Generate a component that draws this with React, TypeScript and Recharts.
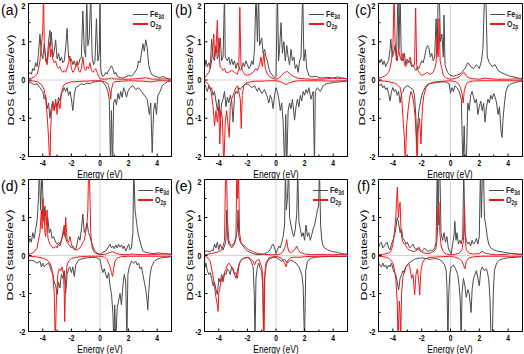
import React from 'react';
import { LineChart, Line, XAxis, YAxis, ReferenceLine, ReferenceArea } from 'recharts';

type P = [number, number][];

// ---------- tick values ----------
const xTicks = [-5, -4, -3, -2, -1, 0, 1, 2, 3, 4, 5];
const xLabeled = [-4, -2, 0, 2, 4];
const yTicks = [-2, -1.5, -1, -0.5, 0, 0.5, 1, 1.5, 2];
const yLabeled = [-2, -1, 0, 1, 2];
const panelLetters = ['(a)', '(b)', '(c)', '(d)', '(e)', '(f)'];

// ---------- panel (a) ----------
const aFeUp: P = [[-5,0.15],[-4.9,0.2],[-4.8,0.15],[-4.7,0.3],[-4.6,0.25],[-4.5,0.45],[-4.4,0.35],[-4.3,0.7],[-4.2,1.2],[-4.1,0.7],[-4.0,0.55],[-3.9,0.95],[-3.8,0.6],[-3.7,0.45],[-3.6,1.0],[-3.5,1.3],[-3.45,0.9],[-3.4,1.25],[-3.3,0.6],[-3.2,0.75],[-3.1,1.05],[-3.0,0.55],[-2.9,0.7],[-2.8,0.5],[-2.7,0.6],[-2.6,0.45],[-2.5,0.5],[-2.4,0.85],[-2.3,1.35],[-2.2,0.6],[-2.1,0.5],[-2.0,0.55],[-1.9,0.4],[-1.8,0.5],[-1.7,0.35],[-1.6,0.45],[-1.5,0.4],[-1.4,0.55],[-1.3,0.6],[-1.2,1.8],[-1.1,0.8],[-1.0,0.6],[-0.93,2.3],[-0.85,0.9],[-0.75,1.1],[-0.65,2.3],[-0.55,0.6],[-0.45,0.4],[-0.35,0.5],[-0.25,1.6],[-0.15,0.5],[-0.05,0.7],[0,2.3],[0.05,0.3],[0.15,0.1],[0.3,0.12],[0.4,0.2],[0.5,0.15],[0.6,0.25],[0.7,0.3],[0.8,0.37],[0.9,0.3],[1.0,0.15],[1.1,0.2],[1.2,0.1],[1.4,0.06],[1.6,0.05],[1.8,0.08],[2.0,0.12],[2.2,0.1],[2.4,0.18],[2.6,0.3],[2.7,0.5],[2.8,0.45],[2.9,0.7],[3.0,0.95],[3.1,0.75],[3.2,1.05],[3.3,0.85],[3.4,0.4],[3.5,0.25],[3.6,0.15],[3.8,0.1],[4.0,0.08],[4.2,0.05],[4.4,0.1],[4.6,0.05],[4.8,0.03],[5,0.02]];
const aFeDn: P = [[-5,-0.05],[-4.8,-0.08],[-4.6,-0.12],[-4.4,-0.1],[-4.2,-0.2],[-4.0,-0.3],[-3.9,-0.5],[-3.8,-0.4],[-3.7,-0.75],[-3.6,-0.6],[-3.5,-1.0],[-3.4,-0.7],[-3.3,-0.55],[-3.2,-0.8],[-3.1,-0.6],[-3.0,-0.7],[-2.9,-0.45],[-2.8,-0.55],[-2.7,-0.35],[-2.6,-0.3],[-2.5,-0.2],[-2.4,-0.3],[-2.3,-0.2],[-2.2,-0.4],[-2.1,-0.3],[-2.0,-0.5],[-1.9,-0.8],[-1.8,-0.4],[-1.7,-0.2],[-1.5,-0.15],[-1.3,-0.1],[-1.1,-0.12],[-0.9,-0.08],[-0.7,-0.1],[-0.5,-0.05],[-0.3,-0.05],[-0.1,-0.03],[0,-0.02],[0.2,-0.05],[0.4,-0.15],[0.55,-0.3],[0.65,-0.5],[0.74,-2.3],[0.8,-0.8],[0.88,-2.3],[0.95,-0.6],[1.05,-0.5],[1.15,-0.65],[1.25,-0.35],[1.35,-0.5],[1.45,-0.3],[1.55,-0.45],[1.65,-0.2],[1.75,-0.3],[1.85,-0.45],[1.95,-0.3],[2.1,-0.2],[2.3,-0.15],[2.5,-0.25],[2.7,-0.2],[2.9,-0.3],[3.1,-0.4],[3.3,-0.5],[3.45,-0.9],[3.55,-0.6],[3.65,-1.9],[3.75,-0.8],[3.85,-0.6],[3.95,-0.9],[4.05,-0.4],[4.2,-0.3],[4.35,-0.15],[4.5,-0.1],[4.7,-0.05],[5,-0.02]];
const aOUp: P = [[-5,0.03],[-4.8,0.05],[-4.6,0.08],[-4.4,0.15],[-4.3,0.3],[-4.2,0.5],[-4.1,0.9],[-4.0,1.3],[-3.95,2.3],[-3.9,1.0],[-3.8,0.5],[-3.7,0.4],[-3.6,0.7],[-3.5,1.0],[-3.45,0.6],[-3.4,0.8],[-3.3,0.55],[-3.2,0.45],[-3.1,0.5],[-3.0,0.35],[-2.9,0.3],[-2.8,0.35],[-2.7,0.25],[-2.6,0.2],[-2.5,0.25],[-2.4,0.2],[-2.3,0.3],[-2.2,0.45],[-2.1,0.63],[-2.0,0.3],[-1.9,0.2],[-1.8,0.25],[-1.7,0.35],[-1.6,0.5],[-1.5,0.25],[-1.4,0.2],[-1.3,0.3],[-1.2,0.6],[-1.1,0.3],[-1.0,0.25],[-0.9,0.35],[-0.8,0.3],[-0.7,0.45],[-0.6,0.25],[-0.5,0.2],[-0.4,0.25],[-0.3,0.3],[-0.2,0.2],[-0.1,0.1],[0,0.03],[0.3,0.02],[0.6,0.03],[0.8,0.05],[1.0,0.03],[1.5,0.02],[2,0.02],[2.5,0.03],[3,0.05],[3.2,0.06],[3.5,0.03],[4,0.02],[4.5,0.03],[5,0.02]];
const aODn: P = [[-5,-0.02],[-4.6,-0.03],[-4.3,-0.06],[-4.1,-0.12],[-3.9,-0.25],[-3.8,-0.5],[-3.7,-0.9],[-3.6,-1.5],[-3.5,-2.3],[-3.45,-1.3],[-3.4,-0.9],[-3.3,-0.6],[-3.2,-0.8],[-3.1,-0.5],[-3.0,-0.9],[-2.9,-0.55],[-2.8,-0.75],[-2.7,-0.35],[-2.6,-0.2],[-2.5,-0.12],[-2.3,-0.08],[-2.0,-0.05],[-1.5,-0.04],[-1.0,-0.03],[-0.5,-0.02],[0,-0.02],[0.3,-0.04],[0.5,-0.08],[0.6,-0.15],[0.7,-0.3],[0.75,-0.5],[0.8,-0.25],[0.9,-0.1],[1.0,-0.05],[1.5,-0.03],[2,-0.02],[3,-0.03],[3.6,-0.05],[4,-0.02],[5,-0.02]];

// ---------- panel (b) ----------
const bFeUp: P = [[-5,0.3],[-4.9,0.5],[-4.8,0.35],[-4.7,0.45],[-4.6,0.3],[-4.5,1.07],[-4.4,0.6],[-4.3,0.5],[-4.2,0.9],[-4.1,0.55],[-4.0,0.7],[-3.9,1.1],[-3.8,0.5],[-3.7,0.6],[-3.6,2.3],[-3.55,0.6],[-3.4,0.5],[-3.3,0.6],[-3.2,0.4],[-3.1,0.55],[-3.0,0.4],[-2.9,0.5],[-2.8,0.3],[-2.7,0.45],[-2.6,0.35],[-2.5,0.25],[-2.4,0.3],[-2.3,0.45],[-2.2,0.35],[-2.1,0.5],[-2.0,0.4],[-1.9,0.3],[-1.8,0.35],[-1.7,0.5],[-1.6,0.4],[-1.5,0.8],[-1.4,2.3],[-1.3,1.0],[-1.22,2.3],[-1.15,0.9],[-1.0,1.1],[-0.9,0.7],[-0.8,0.8],[-0.7,0.6],[-0.6,0.5],[-0.5,0.3],[-0.4,0.2],[-0.3,0.15],[-0.2,0.1],[-0.1,0.05],[0,0.1],[0.1,2.3],[0.18,0.5],[0.25,0.8],[0.35,1.5],[0.45,0.7],[0.55,1.0],[0.65,0.5],[0.75,0.9],[0.85,0.6],[0.95,0.4],[1.05,0.8],[1.15,0.5],[1.25,0.6],[1.35,0.3],[1.45,0.4],[1.55,0.2],[1.65,0.5],[1.75,0.6],[1.87,2.3],[1.95,0.5],[2.05,0.8],[2.15,0.3],[2.3,0.12],[2.5,0.08],[2.8,0.1],[3.0,0.06],[3.3,0.05],[3.6,0.07],[4.0,0.05],[4.3,0.08],[4.6,0.05],[5,0.03]];
const bFeDn: P = [[-5,-0.1],[-4.9,-0.2],[-4.8,-0.3],[-4.7,-0.15],[-4.6,-0.25],[-4.5,-0.2],[-4.4,-0.4],[-4.3,-0.3],[-4.2,-0.55],[-4.1,-0.8],[-4.0,-0.5],[-3.9,-1.0],[-3.8,-0.6],[-3.7,-0.5],[-3.6,-0.3],[-3.5,-0.7],[-3.4,-0.45],[-3.3,-0.6],[-3.2,-0.4],[-3.1,-0.55],[-3.0,-1.1],[-2.9,-0.4],[-2.8,-0.3],[-2.7,-0.35],[-2.6,-0.2],[-2.5,-0.25],[-2.3,-0.15],[-2.1,-0.1],[-1.9,-0.12],[-1.7,-0.2],[-1.5,-0.15],[-1.3,-0.3],[-1.2,-0.2],[-1.0,-0.35],[-0.8,-0.25],[-0.6,-0.45],[-0.5,-0.6],[-0.4,-0.4],[-0.3,-0.5],[-0.2,-0.75],[-0.1,-0.4],[0,-0.2],[0.1,-0.3],[0.2,-0.5],[0.3,-0.8],[0.4,-0.6],[0.5,-1.1],[0.6,-2.3],[0.68,-0.9],[0.75,-2.3],[0.85,-0.8],[0.95,-0.6],[1.05,-0.75],[1.15,-0.5],[1.3,-1.05],[1.4,-0.7],[1.5,-0.5],[1.6,-0.7],[1.7,-0.4],[1.8,-0.55],[1.9,-0.3],[2.0,-0.4],[2.1,-0.25],[2.2,-0.35],[2.3,-0.2],[2.45,-0.5],[2.6,-0.3],[2.69,-2.3],[2.75,-0.3],[2.9,-0.2],[3.1,-0.3],[3.3,-0.15],[3.5,-0.1],[3.8,-0.08],[4.1,-0.06],[4.4,-0.05],[4.7,-0.04],[5,-0.03]];
const bOUp: P = [[-5,0.05],[-4.9,0.1],[-4.8,0.15],[-4.7,0.2],[-4.6,0.3],[-4.5,0.5],[-4.4,0.9],[-4.35,1.2],[-4.3,0.6],[-4.2,0.8],[-4.1,1.56],[-4.05,0.7],[-4.0,1.1],[-3.95,0.5],[-3.9,0.35],[-3.8,0.3],[-3.7,0.25],[-3.6,0.3],[-3.5,0.2],[-3.3,0.2],[-3.1,0.25],[-2.9,0.2],[-2.7,0.15],[-2.6,0.3],[-2.53,1.9],[-2.45,0.4],[-2.35,0.25],[-2.2,0.15],[-2.0,0.12],[-1.8,0.15],[-1.6,0.2],[-1.4,0.3],[-1.3,0.25],[-1.15,0.4],[-1.05,0.6],[-0.95,0.35],[-0.85,0.7],[-0.75,0.3],[-0.6,0.15],[-0.4,0.08],[-0.2,0.04],[0,0.02],[0.2,0.05],[0.4,0.12],[0.6,0.2],[0.8,0.22],[1.0,0.15],[1.2,0.1],[1.5,0.05],[2.0,0.03],[2.5,0.02],[3,0.02],[3.5,0.03],[4,0.05],[4.3,0.03],[4.7,0.05],[5,0.02]];
const bODn: P = [[-5,-0.03],[-4.8,-0.08],[-4.6,-0.2],[-4.5,-0.4],[-4.4,-0.7],[-4.3,-1.2],[-4.2,-0.8],[-4.1,-1.1],[-4.0,-0.7],[-3.93,-1.67],[-3.85,-0.8],[-3.75,-1.0],[-3.65,-2.3],[-3.55,-1.1],[-3.45,-0.8],[-3.35,-1.2],[-3.27,-1.5],[-3.2,-0.7],[-3.1,-0.5],[-3.0,-0.4],[-2.9,-0.3],[-2.8,-0.2],[-2.7,-0.15],[-2.6,-0.3],[-2.5,-0.5],[-2.43,-1.27],[-2.36,-0.4],[-2.25,-0.15],[-2.1,-0.08],[-1.8,-0.05],[-1.4,-0.03],[-1.0,-0.03],[-0.5,-0.02],[0,-0.02],[0.3,-0.04],[0.5,-0.08],[0.7,-0.12],[0.9,-0.08],[1.2,-0.04],[1.6,-0.02],[2,-0.02],[3,-0.02],[4,-0.03],[4.5,-0.02],[5,-0.02]];

// ---------- panel (c) ----------
const cFeUp: P = [[-5,0.5],[-4.9,0.45],[-4.8,0.55],[-4.7,0.4],[-4.6,0.5],[-4.5,0.35],[-4.4,0.45],[-4.3,0.5],[-4.2,0.8],[-4.14,1.07],[-4.05,0.6],[-3.95,0.7],[-3.85,0.9],[-3.75,0.5],[-3.65,2.3],[-3.58,0.8],[-3.5,2.3],[-3.42,0.6],[-3.3,0.5],[-3.2,0.7],[-3.1,0.4],[-3.0,0.55],[-2.9,0.45],[-2.8,0.5],[-2.7,0.35],[-2.6,0.4],[-2.5,0.3],[-2.4,0.25],[-2.3,0.35],[-2.2,0.3],[-2.1,0.4],[-2.0,0.5],[-1.9,0.45],[-1.8,0.6],[-1.7,0.8],[-1.6,0.9],[-1.5,0.85],[-1.4,0.6],[-1.3,0.7],[-1.2,0.5],[-1.1,0.6],[-1.0,1.6],[-0.93,0.7],[-0.85,2.3],[-0.78,2.3],[-0.7,1.0],[-0.6,1.2],[-0.5,0.6],[-0.45,1.7],[-0.38,0.4],[-0.3,0.3],[-0.2,0.2],[-0.1,0.15],[0,0.12],[0.2,0.1],[0.4,0.12],[0.6,0.15],[0.8,0.2],[1.0,0.3],[1.2,0.45],[1.4,0.35],[1.6,0.3],[1.8,0.4],[2.0,0.3],[2.15,0.5],[2.25,0.8],[2.37,2.3],[2.45,2.3],[2.55,0.6],[2.7,0.45],[2.9,0.35],[3.1,0.4],[3.3,0.25],[3.5,0.2],[3.8,0.15],[4.1,0.1],[4.4,0.08],[4.7,0.05],[5,0.04]];
const cFeDn: P = [[-5,-0.1],[-4.9,-0.15],[-4.8,-0.1],[-4.7,-0.2],[-4.6,-0.15],[-4.5,-0.25],[-4.4,-0.2],[-4.3,-0.35],[-4.2,-0.55],[-4.1,-0.3],[-4.0,-0.2],[-3.9,-0.3],[-3.8,-0.25],[-3.7,-0.4],[-3.6,-0.3],[-3.5,-0.6],[-3.4,-0.35],[-3.3,-0.3],[-3.2,-0.2],[-3.0,-0.15],[-2.8,-0.2],[-2.6,-0.25],[-2.5,-0.4],[-2.4,-1.0],[-2.35,-1.7],[-2.28,-1.2],[-2.2,-0.8],[-2.1,-0.6],[-2.0,-0.4],[-1.9,-0.3],[-1.7,-0.15],[-1.5,-0.1],[-1.2,-0.08],[-0.9,-0.06],[-0.6,-0.05],[-0.3,-0.05],[-0.1,-0.1],[0,-0.35],[0.1,-0.2],[0.2,-0.3],[0.3,-0.15],[0.45,-0.2],[0.6,-0.3],[0.75,-0.5],[0.86,-2.3],[0.95,-1.2],[1.02,-2.3],[1.09,-2.3],[1.2,-0.6],[1.3,-0.8],[1.4,-0.4],[1.5,-0.3],[1.6,-0.45],[1.7,-0.6],[1.8,-0.5],[1.9,-0.9],[2.0,-0.7],[2.1,-0.55],[2.2,-0.8],[2.3,-0.6],[2.4,-1.1],[2.5,-0.7],[2.6,-0.5],[2.7,-0.6],[2.8,-0.4],[2.9,-0.5],[3.0,-0.35],[3.1,-0.45],[3.2,-0.6],[3.3,-0.9],[3.4,-0.7],[3.5,-1.3],[3.58,-1.5],[3.65,-1.0],[3.75,-0.6],[3.85,-0.3],[4.0,-0.15],[4.2,-0.1],[4.5,-0.06],[4.8,-0.04],[5,-0.03]];
const cOUp: P = [[-5,0.05],[-4.8,0.06],[-4.6,0.1],[-4.4,0.15],[-4.3,0.2],[-4.2,0.3],[-4.1,0.5],[-4.0,0.8],[-3.92,2.3],[-3.85,1.0],[-3.78,0.7],[-3.7,0.5],[-3.6,0.8],[-3.5,0.6],[-3.4,0.5],[-3.3,0.7],[-3.2,0.4],[-3.1,0.35],[-3.0,0.45],[-2.9,0.5],[-2.8,0.6],[-2.7,0.4],[-2.6,0.35],[-2.5,0.4],[-2.42,1.88],[-2.35,0.4],[-2.25,0.25],[-2.1,0.15],[-2.0,0.12],[-1.8,0.15],[-1.6,0.2],[-1.4,0.15],[-1.2,0.2],[-1.1,0.3],[-1.0,0.45],[-0.92,1.2],[-0.86,0.6],[-0.8,1.6],[-0.72,0.5],[-0.6,0.3],[-0.5,0.12],[-0.3,0.05],[0,0.02],[0.3,0.04],[0.6,0.08],[0.8,0.15],[0.95,0.2],[1.1,0.1],[1.3,0.05],[1.6,0.03],[2,0.02],[2.4,0.05],[2.8,0.03],[3.3,0.02],[4,0.02],[4.5,0.03],[5,0.02]];
const cODn: P = [[-5,-0.02],[-4.6,-0.03],[-4.2,-0.05],[-3.9,-0.08],[-3.7,-0.12],[-3.5,-0.2],[-3.4,-0.4],[-3.3,-1.0],[-3.2,-1.5],[-3.14,-2.3],[-3.05,-1.2],[-2.95,-0.8],[-2.85,-0.5],[-2.75,-0.3],[-2.65,-0.4],[-2.55,-0.6],[-2.45,-1.0],[-2.38,-1.5],[-2.32,-2.3],[-2.25,-1.3],[-2.15,-1.0],[-2.05,-1.67],[-1.95,-0.7],[-1.85,-0.4],[-1.7,-0.2],[-1.5,-0.1],[-1.2,-0.06],[-0.8,-0.04],[-0.4,-0.03],[0,-0.02],[0.3,-0.04],[0.5,-0.08],[0.7,-0.2],[0.8,-0.35],[0.88,-0.6],[0.95,-0.3],[1.05,-0.15],[1.2,-0.06],[1.5,-0.03],[2,-0.02],[3,-0.02],[4,-0.02],[5,-0.02]];

// ---------- panel (d) ----------
const dFeUp: P = [[-5,0.3],[-4.9,0.45],[-4.8,0.35],[-4.7,0.6],[-4.6,0.45],[-4.5,0.7],[-4.4,0.9],[-4.3,1.5],[-4.24,2.3],[-4.15,1.2],[-4.05,2.3],[-3.95,1.0],[-3.85,1.3],[-3.75,0.8],[-3.65,1.0],[-3.55,0.6],[-3.45,0.7],[-3.35,0.45],[-3.25,0.5],[-3.1,0.35],[-3.0,0.3],[-2.9,0.35],[-2.8,0.3],[-2.7,0.4],[-2.6,0.5],[-2.5,0.7],[-2.4,0.45],[-2.3,0.35],[-2.2,0.3],[-2.1,0.25],[-2.0,0.2],[-1.9,0.25],[-1.8,0.2],[-1.7,0.15],[-1.6,0.3],[-1.5,0.5],[-1.4,0.4],[-1.3,0.7],[-1.2,1.09],[-1.1,0.6],[-1.0,0.7],[-0.9,0.85],[-0.8,0.6],[-0.7,0.5],[-0.6,0.35],[-0.5,0.25],[-0.4,0.15],[-0.3,0.1],[-0.2,0.06],[0,0.03],[0.2,0.08],[0.4,0.12],[0.55,0.2],[0.7,0.3],[0.8,0.2],[0.9,0.25],[1.0,0.18],[1.1,0.28],[1.2,0.2],[1.3,0.3],[1.4,0.22],[1.5,0.28],[1.6,0.18],[1.7,0.25],[1.8,0.12],[1.9,0.2],[2.0,0.3],[2.1,0.15],[2.2,0.2],[2.3,0.6],[2.36,2.3],[2.45,1.2],[2.55,0.9],[2.65,0.6],[2.75,0.45],[2.85,0.3],[3.0,0.12],[3.2,0.08],[3.5,0.06],[3.8,0.05],[4.1,0.07],[4.4,0.05],[4.7,0.04],[5,0.03]];
const dFeDn: P = [[-5,-0.1],[-4.9,-0.15],[-4.8,-0.12],[-4.6,-0.15],[-4.4,-0.2],[-4.2,-0.15],[-4.1,-0.3],[-4.0,-0.2],[-3.9,-0.3],[-3.8,-0.25],[-3.6,-0.2],[-3.5,-0.3],[-3.4,-0.4],[-3.3,-0.5],[-3.2,-0.7],[-3.1,-0.8],[-3.0,-1.03],[-2.9,-0.7],[-2.8,-0.85],[-2.7,-0.5],[-2.6,-0.6],[-2.5,-0.4],[-2.4,-0.99],[-2.3,-0.5],[-2.2,-0.35],[-2.1,-0.3],[-2.0,-0.45],[-1.9,-0.3],[-1.8,-0.55],[-1.7,-0.25],[-1.5,-0.12],[-1.2,-0.08],[-0.9,-0.06],[-0.6,-0.05],[-0.3,-0.05],[0,-0.1],[0.1,-0.3],[0.2,-0.45],[0.3,-0.35],[0.4,-0.5],[0.5,-0.6],[0.6,-0.45],[0.7,-0.8],[0.8,-1.0],[0.9,-1.5],[0.97,-2.3],[1.03,-1.3],[1.1,-2.3],[1.2,-1.4],[1.3,-1.2],[1.4,-1.0],[1.5,-1.3],[1.6,-0.8],[1.7,-0.5],[1.8,-0.7],[1.88,-2.3],[1.95,-0.5],[2.05,-0.3],[2.2,-0.15],[2.35,-0.2],[2.5,-0.15],[2.6,-0.25],[2.7,-0.2],[2.8,-0.35],[2.9,-0.3],[3.0,-0.5],[3.1,-0.7],[3.2,-0.9],[3.3,-1.2],[3.34,-1.43],[3.4,-1.0],[3.5,-0.5],[3.6,-0.3],[3.8,-0.15],[4.0,-0.1],[4.3,-0.06],[4.6,-0.05],[5,-0.03]];
const dOUp: P = [[-5,0.03],[-4.8,0.05],[-4.6,0.1],[-4.4,0.2],[-4.3,0.4],[-4.2,0.6],[-4.1,1.2],[-4.05,0.7],[-4.0,1.5],[-3.95,0.9],[-3.9,1.2],[-3.85,0.6],[-3.8,0.5],[-3.7,1.2],[-3.65,0.5],[-3.6,0.4],[-3.5,0.3],[-3.4,0.25],[-3.3,0.2],[-3.2,0.2],[-3.1,0.25],[-3.0,0.2],[-2.9,0.3],[-2.8,0.25],[-2.7,0.4],[-2.6,0.6],[-2.5,0.8],[-2.45,0.5],[-2.4,1.0],[-2.3,0.4],[-2.2,0.35],[-2.1,0.5],[-2.0,0.3],[-1.9,0.2],[-1.8,0.15],[-1.6,0.15],[-1.4,0.2],[-1.3,0.25],[-1.2,0.35],[-1.1,0.4],[-1.0,0.6],[-0.9,0.9],[-0.85,1.2],[-0.8,2.3],[-0.75,2.3],[-0.7,1.5],[-0.65,0.6],[-0.55,0.2],[-0.4,0.08],[-0.2,0.04],[0,0.02],[0.3,0.03],[0.5,0.05],[0.7,0.08],[0.9,0.1],[1.1,0.06],[1.4,0.03],[1.8,0.02],[2.3,0.04],[2.5,0.03],[3,0.02],[3.5,0.02],[4,0.03],[4.5,0.04],[5,0.03]];
const dODn: P = [[-5,-0.02],[-4.6,-0.03],[-4.2,-0.05],[-3.9,-0.08],[-3.7,-0.12],[-3.5,-0.2],[-3.4,-0.3],[-3.3,-0.5],[-3.2,-1.0],[-3.13,-2.3],[-3.05,-1.2],[-2.95,-0.5],[-2.85,-0.35],[-2.75,-0.4],[-2.65,-0.3],[-2.55,-0.5],[-2.5,-1.0],[-2.47,-1.74],[-2.4,-0.6],[-2.3,-0.25],[-2.2,-0.15],[-2.0,-0.08],[-1.7,-0.05],[-1.3,-0.03],[-0.8,-0.02],[-0.3,-0.02],[0,-0.02],[0.3,-0.04],[0.5,-0.1],[0.6,-0.2],[0.7,-0.3],[0.8,-0.45],[0.88,-0.55],[0.95,-0.35],[1.05,-0.15],[1.2,-0.07],[1.5,-0.03],[2,-0.02],[3,-0.02],[4,-0.02],[5,-0.02]];

// ---------- panel (e) ----------
const eFeUp: P = [[-5,0.1],[-4.8,0.12],[-4.6,0.1],[-4.5,0.15],[-4.4,0.12],[-4.3,0.3],[-4.2,0.2],[-4.1,0.35],[-4.0,0.15],[-3.9,0.3],[-3.8,0.2],[-3.7,0.15],[-3.6,0.25],[-3.5,0.4],[-3.45,1.2],[-3.4,0.5],[-3.3,0.3],[-3.2,0.25],[-3.1,0.2],[-3.0,0.25],[-2.9,0.3],[-2.8,0.45],[-2.7,0.7],[-2.65,1.2],[-2.6,0.5],[-2.5,0.35],[-2.4,0.3],[-2.3,0.25],[-2.2,0.2],[-2.1,0.15],[-2.0,0.12],[-1.8,0.08],[-1.6,0.05],[-1.4,0.03],[-1.2,0.02],[-1.0,0.03],[-0.8,0.05],[-0.6,0.08],[-0.4,0.15],[-0.3,0.25],[-0.2,0.3],[-0.1,0.2],[0,0.05],[0.1,0.15],[0.2,0.25],[0.3,0.2],[0.4,0.35],[0.5,0.5],[0.6,0.8],[0.66,2.3],[0.72,1.2],[0.8,1.5],[0.88,2.3],[0.95,1.0],[1.05,0.8],[1.15,0.6],[1.25,0.5],[1.35,0.7],[1.45,1.1],[1.52,2.3],[1.6,0.9],[1.7,0.7],[1.8,0.5],[1.9,0.6],[2.0,0.4],[2.1,0.8],[2.2,0.5],[2.3,0.6],[2.4,0.4],[2.5,0.55],[2.6,0.7],[2.7,0.8],[2.8,1.0],[2.9,1.2],[2.98,1.3],[3.04,2.3],[3.12,0.8],[3.2,0.4],[3.3,0.25],[3.4,0.2],[3.6,0.15],[3.8,0.12],[4.0,0.1],[4.3,0.08],[4.6,0.05],[5,0.03]];
const eFeDn: P = [[-5,-0.1],[-4.95,-0.3],[-4.9,-0.2],[-4.8,-0.4],[-4.7,-0.5],[-4.6,-0.45],[-4.5,-0.6],[-4.4,-0.8],[-4.3,-0.7],[-4.2,-0.9],[-4.1,-1.03],[-4.0,-0.6],[-3.9,-0.7],[-3.8,-0.5],[-3.7,-0.65],[-3.6,-0.45],[-3.5,-0.5],[-3.4,-0.35],[-3.3,-0.4],[-3.2,-0.5],[-3.1,-0.3],[-3.0,-0.35],[-2.9,-0.5],[-2.8,-0.6],[-2.7,-0.4],[-2.6,-0.25],[-2.5,-0.15],[-2.3,-0.08],[-2.1,-0.05],[-1.9,-0.06],[-1.75,-0.15],[-1.6,-0.3],[-1.52,-1.0],[-1.47,-2.3],[-1.4,-0.6],[-1.3,-0.3],[-1.2,-0.2],[-1.1,-0.35],[-1.0,-0.4],[-0.93,-0.8],[-0.87,-2.3],[-0.8,-0.6],[-0.7,-0.3],[-0.6,-0.15],[-0.4,-0.08],[-0.2,-0.05],[0,-0.05],[0.2,-0.1],[0.4,-0.15],[0.6,-0.1],[0.8,-0.2],[1.0,-0.12],[1.2,-0.15],[1.4,-0.2],[1.6,-0.3],[1.8,-0.5],[1.9,-0.8],[1.99,-2.3],[2.08,-0.4],[2.2,-0.15],[2.4,-0.08],[2.7,-0.05],[3.0,-0.04],[3.5,-0.03],[4.0,-0.02],[4.5,-0.03],[5,-0.02]];
const eOUp: P = [[-5,0.02],[-4.8,0.03],[-4.6,0.05],[-4.4,0.06],[-4.2,0.08],[-4.0,0.1],[-3.8,0.15],[-3.7,0.25],[-3.6,0.4],[-3.52,2.3],[-3.46,2.3],[-3.4,1.0],[-3.3,0.4],[-3.2,0.3],[-3.1,0.25],[-3.0,0.3],[-2.9,0.35],[-2.8,0.5],[-2.74,2.3],[-2.68,1.5],[-2.62,2.3],[-2.55,0.6],[-2.45,0.35],[-2.35,0.3],[-2.2,0.25],[-2.05,0.2],[-1.9,0.15],[-1.7,0.12],[-1.5,0.08],[-1.2,0.05],[-0.8,0.03],[-0.4,0.02],[0,0.02],[0.3,0.04],[0.5,0.1],[0.6,0.2],[0.7,0.3],[0.75,0.42],[0.8,0.25],[0.9,0.1],[1.1,0.08],[1.3,0.15],[1.45,0.25],[1.55,0.15],[1.7,0.08],[2.0,0.04],[2.5,0.02],[3,0.03],[3.5,0.02],[4,0.02],[4.5,0.03],[5,0.02]];
const eODn: P = [[-5,-0.02],[-4.8,-0.05],[-4.6,-0.15],[-4.5,-0.35],[-4.4,-0.55],[-4.3,-0.8],[-4.2,-1.1],[-4.1,-1.3],[-4.05,-1.47],[-4.0,-1.0],[-3.9,-0.8],[-3.8,-0.6],[-3.7,-0.7],[-3.6,-0.45],[-3.5,-0.35],[-3.4,-0.25],[-3.3,-0.2],[-3.2,-0.25],[-3.1,-0.3],[-3.0,-0.4],[-2.9,-0.5],[-2.8,-0.45],[-2.7,-0.6],[-2.6,-0.3],[-2.5,-0.15],[-2.3,-0.08],[-2.0,-0.05],[-1.8,-0.08],[-1.6,-0.15],[-1.5,-0.25],[-1.4,-0.15],[-1.2,-0.1],[-1.0,-0.3],[-0.92,-0.6],[-0.85,-2.3],[-0.78,-0.5],[-0.7,-0.2],[-0.5,-0.06],[-0.2,-0.03],[0,-0.02],[0.2,-0.04],[0.4,-0.08],[0.6,-0.2],[0.7,-0.3],[0.8,-0.15],[1.0,-0.06],[1.3,-0.04],[1.6,-0.05],[2,-0.03],[3,-0.02],[4,-0.02],[5,-0.02]];

// ---------- panel (f) ----------
const fFeUp: P = [[-5,0.2],[-4.9,0.3],[-4.8,0.35],[-4.7,0.2],[-4.6,0.25],[-4.5,0.3],[-4.4,0.35],[-4.3,0.2],[-4.2,0.15],[-4.1,0.3],[-4.0,0.4],[-3.9,0.5],[-3.8,0.7],[-3.7,1.0],[-3.6,0.85],[-3.5,0.6],[-3.4,0.7],[-3.3,0.45],[-3.2,0.4],[-3.1,0.3],[-3.0,0.35],[-2.9,0.25],[-2.8,0.2],[-2.7,0.25],[-2.6,0.3],[-2.5,0.2],[-2.4,0.15],[-2.3,0.2],[-2.2,0.15],[-2.1,0.12],[-2.0,0.1],[-1.9,0.15],[-1.8,0.2],[-1.7,0.15],[-1.6,0.12],[-1.5,0.1],[-1.4,0.15],[-1.3,0.12],[-1.2,0.15],[-1.1,0.2],[-1.0,0.35],[-0.92,2.3],[-0.86,0.8],[-0.8,2.3],[-0.74,2.3],[-0.66,0.6],[-0.55,0.4],[-0.45,0.6],[-0.35,0.35],[-0.25,0.5],[-0.15,0.2],[-0.05,0.1],[0.05,0.05],[0.15,0.3],[0.25,0.55],[0.3,0.9],[0.38,0.4],[0.45,0.6],[0.55,0.3],[0.65,0.4],[0.75,0.3],[0.85,0.5],[0.92,2.3],[1.0,0.6],[1.1,0.4],[1.2,0.3],[1.3,0.35],[1.4,0.25],[1.5,0.4],[1.6,0.3],[1.7,0.35],[1.8,0.45],[1.9,0.3],[2.0,0.5],[2.08,2.3],[2.15,1.0],[2.22,2.3],[2.28,2.3],[2.36,1.0],[2.45,0.8],[2.55,0.5],[2.65,0.3],[2.8,0.2],[3.0,0.15],[3.2,0.12],[3.5,0.1],[3.8,0.08],[4.1,0.06],[4.4,0.05],[4.7,0.04],[5,0.03]];
const fFeDn: P = [[-5,-0.2],[-4.9,-0.25],[-4.8,-0.3],[-4.7,-0.2],[-4.6,-0.3],[-4.5,-0.25],[-4.4,-0.35],[-4.3,-0.25],[-4.2,-0.3],[-4.1,-0.2],[-4.0,-0.35],[-3.9,-0.45],[-3.8,-0.5],[-3.7,-0.7],[-3.6,-0.9],[-3.5,-0.6],[-3.4,-0.5],[-3.3,-0.4],[-3.2,-0.45],[-3.1,-0.3],[-3.0,-0.25],[-2.9,-0.2],[-2.7,-0.15],[-2.5,-0.1],[-2.3,-0.08],[-2.0,-0.06],[-1.7,-0.08],[-1.4,-0.1],[-1.1,-0.08],[-0.8,-0.1],[-0.6,-0.15],[-0.4,-0.25],[-0.3,-0.4],[-0.24,-0.9],[-0.18,-2.3],[-0.12,-1.0],[-0.05,-0.5],[0.05,-0.3],[0.2,-0.25],[0.35,-0.35],[0.5,-0.5],[0.6,-0.8],[0.68,-1.2],[0.74,-2.3],[0.8,-1.0],[0.9,-0.6],[1.0,-0.8],[1.1,-1.1],[1.2,-0.9],[1.3,-1.0],[1.43,-1.5],[1.5,-0.9],[1.6,-0.6],[1.7,-0.5],[1.8,-0.4],[1.9,-0.6],[2.0,-0.8],[2.1,-0.4],[2.2,-0.3],[2.35,-0.4],[2.5,-0.35],[2.65,-0.6],[2.75,-1.2],[2.82,-2.3],[2.9,-2.3],[2.97,-1.0],[3.05,-0.4],[3.2,-0.2],[3.4,-0.12],[3.7,-0.08],[4.0,-0.06],[4.4,-0.05],[4.7,-0.04],[5,-0.03]];
const fOUp: P = [[-5,0.02],[-4.7,0.03],[-4.4,0.05],[-4.2,0.08],[-4.1,0.15],[-4.0,0.3],[-3.9,0.6],[-3.8,1.0],[-3.75,1.4],[-3.69,1.8],[-3.62,1.0],[-3.56,1.3],[-3.5,1.4],[-3.45,0.8],[-3.4,0.5],[-3.3,0.35],[-3.2,0.3],[-3.1,0.25],[-3.0,0.2],[-2.9,0.15],[-2.7,0.12],[-2.5,0.1],[-2.3,0.15],[-2.2,0.22],[-2.1,0.15],[-2.0,0.1],[-1.8,0.06],[-1.5,0.05],[-1.3,0.08],[-1.1,0.12],[-1.0,0.2],[-0.92,0.5],[-0.86,1.2],[-0.8,1.4],[-0.74,0.6],[-0.65,0.25],[-0.5,0.1],[-0.3,0.04],[0,0.02],[0.3,0.03],[0.6,0.06],[0.8,0.15],[0.9,0.4],[0.97,1.3],[1.03,0.4],[1.1,0.15],[1.3,0.06],[1.6,0.04],[2.0,0.05],[2.2,0.12],[2.4,0.06],[2.8,0.03],[3.2,0.02],[3.8,0.03],[4.2,0.05],[4.6,0.03],[5,0.02]];
const fODn: P = [[-5,-0.02],[-4.7,-0.03],[-4.4,-0.05],[-4.2,-0.1],[-4.0,-0.2],[-3.9,-0.35],[-3.8,-0.6],[-3.7,-1.2],[-3.64,-2.3],[-3.56,-1.2],[-3.5,-1.5],[-3.46,-2.3],[-3.4,-1.0],[-3.3,-0.55],[-3.2,-0.4],[-3.1,-0.3],[-3.0,-0.25],[-2.9,-0.2],[-2.8,-0.35],[-2.7,-0.6],[-2.6,-0.5],[-2.49,-1.04],[-2.4,-0.5],[-2.3,-0.35],[-2.2,-0.7],[-2.14,-1.04],[-2.05,-0.4],[-1.95,-0.2],[-1.8,-0.1],[-1.5,-0.05],[-1.0,-0.04],[-0.5,-0.03],[0,-0.02],[0.3,-0.04],[0.6,-0.08],[0.8,-0.15],[0.9,-0.25],[1.0,-0.35],[1.1,-0.15],[1.3,-0.06],[1.7,-0.03],[2.2,-0.02],[3,-0.02],[4,-0.02],[5,-0.02]];

// ---------- styling ----------
const FE = '#4a4a4a';
const O2 = '#f01818';
const SX = 0.74;
const FONT = '"Liberation Sans", Arial, sans-serif';

const pts = (a: P) => a.map(([e, v]) => ({ e, v }));

function XTick(props: any) {
  const { x, y, payload } = props;
  const v = payload.value;
  const major = xLabeled.includes(v);
  return (
    <g>
      <line x1={x} x2={x} y1={y} y2={y - (major ? 3 : 2)} stroke="#000" strokeWidth={1} />
      {major && (
        <text transform={`translate(${x},${y + 9}) scale(${SX},1)`} textAnchor="middle" fontSize={9} fontWeight="bold" fontFamily={FONT} fill="#000">
          {v}
        </text>
      )}
    </g>
  );
}

function YTick(props: any) {
  const { x, y, payload } = props;
  const v = payload.value;
  const major = yLabeled.includes(v);
  const base = Math.max(y + 3.2, 9.6);
  return (
    <g>
      <line x1={x} x2={x + (major ? 3 : 2)} y1={y} y2={y} stroke="#000" strokeWidth={1} />
      {major && (
        <text transform={`translate(${x - 3},${base}) scale(${SX},1)`} textAnchor="end" fontSize={9.5} fontWeight="bold" fontFamily={FONT} fill="#000">
          {v}
        </text>
      )}
    </g>
  );
}

type PanelDef = {
  L: number; T: number; W: number; H: number;
  letter: string; letterX: number;
  yLabX: number; legX: number;
  feUp: P; feDn: P; oUp: P; oDn: P;
};

const panels: PanelDef[] = [
  { L: 28, T: 3, W: 143, H: 153, letter: panelLetters[0], letterX: 1, yLabX: 11, legX: 133, feUp: aFeUp, feDn: aFeDn, oUp: aOUp, oDn: aODn },
  { L: 204, T: 3, W: 143, H: 153, letter: panelLetters[1], letterX: 175, yLabX: 190, legX: 309, feUp: bFeUp, feDn: bFeDn, oUp: bOUp, oDn: bODn },
  { L: 378, T: 3, W: 144, H: 153, letter: panelLetters[2], letterX: 355, yLabX: 362, legX: 490, feUp: cFeUp, feDn: cFeDn, oUp: cOUp, oDn: cODn },
  { L: 28, T: 179, W: 143, H: 152, letter: panelLetters[3], letterX: 1, yLabX: 10, legX: 138, feUp: dFeUp, feDn: dFeDn, oUp: dOUp, oDn: dODn },
  { L: 204, T: 179, W: 143, H: 152, letter: panelLetters[4], letterX: 175, yLabX: 190, legX: 313, feUp: eFeUp, feDn: eFeDn, oUp: eOUp, oDn: eODn },
  { L: 378, T: 179, W: 144, H: 152, letter: panelLetters[5], letterX: 357, yLabX: 364, legX: 489, feUp: fFeUp, feDn: fFeDn, oUp: fOUp, oDn: fODn },
];

function Panel({ p }: { p: PanelDef }) {
  const YW = 30;
  const MT = 4;
  const XH = 22;
  return (
    <>
      <div style={{ position: 'absolute', left: p.L - YW, top: p.T - MT }}>
        <LineChart width={p.W + YW + 1} height={p.H + MT + XH} margin={{ top: MT + 0.5, right: 0.5, left: 0.5, bottom: -0.5 }}>
          <XAxis type="number" dataKey="e" domain={[-5, 5]} ticks={xTicks} interval={0} allowDataOverflow axisLine={false} tickLine={false} tickSize={0} tickMargin={0} height={XH} tick={(t: any) => <XTick {...t} />} />
          <YAxis type="number" domain={[-2, 2]} ticks={yTicks} interval={0} allowDataOverflow axisLine={false} tickLine={false} tickSize={0} tickMargin={0} width={YW} tick={(t: any) => <YTick {...t} />} />
          <ReferenceLine y={0} stroke="#d4d4d4" strokeWidth={1} />
          <ReferenceLine x={0} stroke="#d4d4d4" strokeWidth={1} />
          <Line data={pts(p.feUp)} dataKey="v" type="linear" stroke={FE} strokeWidth={1} dot={false} isAnimationActive={false} />
          <Line data={pts(p.feDn)} dataKey="v" type="linear" stroke={FE} strokeWidth={1} dot={false} isAnimationActive={false} />
          <Line data={pts(p.oUp)} dataKey="v" type="linear" stroke={O2} strokeWidth={1} dot={false} isAnimationActive={false} />
          <Line data={pts(p.oDn)} dataKey="v" type="linear" stroke={O2} strokeWidth={1} dot={false} isAnimationActive={false} />
          <ReferenceArea x1={-5} x2={5} y1={-2} y2={2} fill="none" fillOpacity={0} stroke="#000" strokeWidth={1} ifOverflow="visible" />
        </LineChart>
      </div>
      {/* panel letter */}
      <div style={{ position: 'absolute', left: p.letterX, top: p.T - 0.5, fontSize: 14, lineHeight: '14px', fontFamily: FONT, color: '#000' }}>
        {p.letter}
      </div>
      {/* y title */}
      <div style={{ position: 'absolute', left: p.yLabX, top: p.T + p.H / 2, transform: `translate(-50%,-50%) scaleX(${SX}) rotate(-90deg)`, fontSize: 12.5, lineHeight: '13px', whiteSpace: 'nowrap', fontFamily: FONT, color: '#000' }}>
        DOS (states/eV)
      </div>
      {/* x title */}
      <div style={{ position: 'absolute', left: p.L + p.W / 2, top: p.T + p.H + 17.5, transform: `translate(-50%,-50%) scaleX(${SX})`, fontSize: 11.5, lineHeight: '11px', whiteSpace: 'nowrap', fontFamily: FONT, color: '#000' }}>
        Energy (eV)
      </div>
      {/* legend */}
      <div style={{ position: 'absolute', left: p.legX, top: p.T + 10.5, width: 15, height: 1.5, background: FE }} />
      <div style={{ position: 'absolute', left: p.legX, top: p.T + 20, width: 15, height: 1.5, background: O2 }} />
      <div style={{ position: 'absolute', left: p.legX + 17, top: p.T + 5, transform: `scaleX(${SX})`, transformOrigin: 'left center', fontSize: 9.5, lineHeight: '11px', fontWeight: 'bold', whiteSpace: 'nowrap', fontFamily: FONT, color: '#222' }}>
        Fe<span style={{ fontSize: 6.5, verticalAlign: -2 }}>3d</span>
      </div>
      <div style={{ position: 'absolute', left: p.legX + 17, top: p.T + 14.5, transform: `scaleX(${SX})`, transformOrigin: 'left center', fontSize: 9.5, lineHeight: '11px', fontWeight: 'bold', whiteSpace: 'nowrap', fontFamily: FONT, color: '#222' }}>
        O<span style={{ fontSize: 6.5, verticalAlign: -2 }}>2p</span>
      </div>
    </>
  );
}

export default function App() {
  return (
    <div style={{ position: 'absolute', left: 0, top: 0, width: 524, height: 354, overflow: 'hidden', background: '#fff' }}>
      {panels.map((p, i) => (
        <Panel key={i} p={p} />
      ))}
    </div>
  );
}
